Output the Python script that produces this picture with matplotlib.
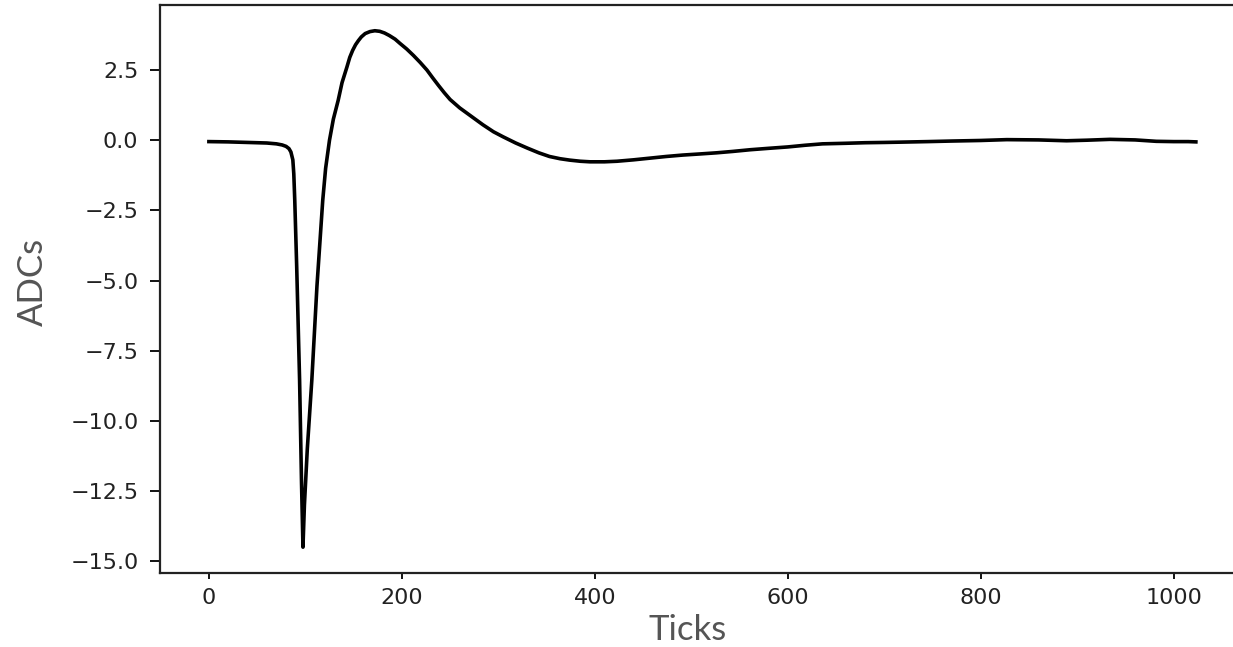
import matplotlib
matplotlib.use("Agg")
import matplotlib.pyplot as plt

# Waveform (sample tick, ADC value)
ticks = [0, 20, 40, 60, 70, 76, 80, 83, 85, 87, 88, 89, 91, 94, 96, 97.5,
         99, 102, 106.7, 112, 118, 121, 125, 129, 134, 138, 143, 146, 149,
         152, 155, 158, 162, 167, 172, 177, 182, 187, 193, 198, 205, 212,
         219, 226, 232, 238, 244, 250, 260, 270, 284, 295, 305, 318, 330,
         342, 353, 364, 374, 385, 395, 410, 423, 440, 457, 474, 491, 509,
         526, 543, 561, 580, 600, 618, 636, 660, 680, 700, 716, 745, 770,
         800, 827, 860, 889, 910, 934, 960, 982, 1000, 1015, 1023]
adcs = [-0.05, -0.06, -0.08, -0.10, -0.13, -0.17, -0.22, -0.30, -0.42,
        -0.70, -1.2, -2.14, -4.5, -8.54, -12.2, -14.5,
        -13.0, -11.0, -8.54, -5.2, -2.14, -1.0, 0.0, 0.75, 1.42, 2.05,
        2.6, 2.95, 3.2, 3.4, 3.55, 3.68, 3.8, 3.87, 3.9, 3.88, 3.82, 3.73,
        3.6, 3.45, 3.25, 3.02, 2.77, 2.5, 2.22, 1.95, 1.69, 1.45, 1.15,
        0.9, 0.55, 0.3, 0.12, -0.1, -0.28, -0.45, -0.58, -0.66, -0.71,
        -0.75, -0.77, -0.77, -0.75, -0.70, -0.64, -0.58, -0.53, -0.49,
        -0.45, -0.40, -0.34, -0.29, -0.24, -0.18, -0.13, -0.11, -0.09,
        -0.08, -0.07, -0.05, -0.03, -0.01, 0.02, 0.01, -0.02, 0.0, 0.03,
        0.01, -0.04, -0.05, -0.05, -0.06]

fig = plt.figure(figsize=(12.33, 6.47), dpi=100)
ax = fig.add_axes([0.1294, 0.1144, 0.8805, 0.878])

ax.plot(ticks, adcs, color="black", linewidth=2.6)

for side in ax.spines.values():
    side.set_linewidth(1.6)
    side.set_color("#222222")

ax.tick_params(axis="y", length=7.2, width=1.3, pad=8, labelsize=16,
               labelcolor="#222222")
ax.tick_params(axis="x", length=4.3, width=1.3, pad=6.5, labelsize=16,
               labelcolor="#222222")
ax.set_yticks([2.5, 0.0, -2.5, -5.0, -7.5, -10.0, -12.5, -15.0])
ax.set_xticks([0, 200, 400, 600, 800, 1000])

ax.set_xlabel("Ticks", fontfamily="Lato", fontsize=25, color="#555555")
ax.set_ylabel("ADCs", fontfamily="Lato", fontsize=25, color="#555555")
ax.xaxis.set_label_coords(0.486, -0.072)
ax.yaxis.set_label_coords(-0.102, 0.512)

fig.savefig("out.png", dpi=100)
